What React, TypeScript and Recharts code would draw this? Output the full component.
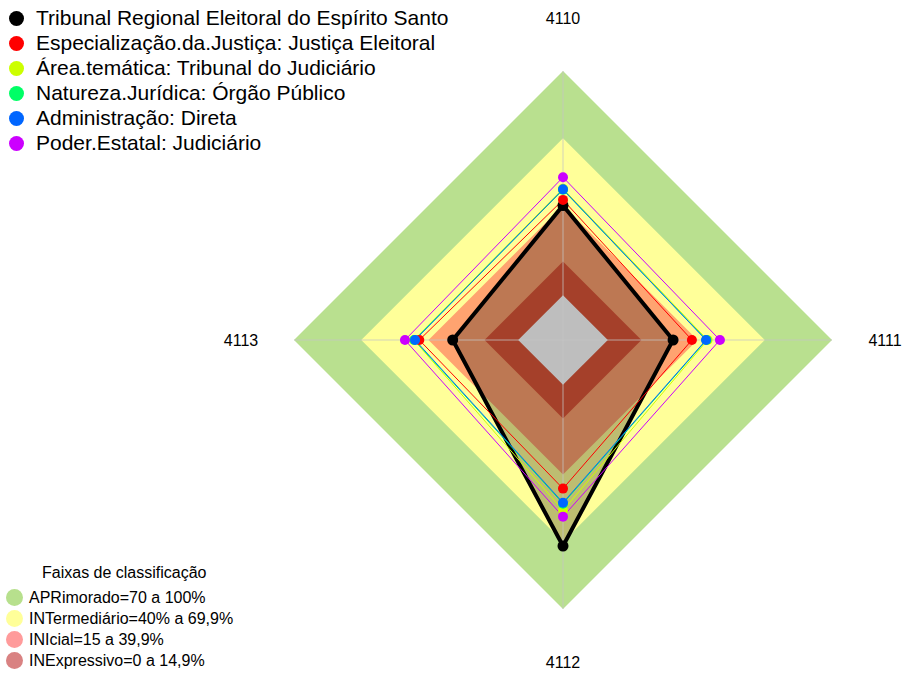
import React from 'react';
import { RadarChart, Radar, PolarAngleAxis, PolarRadiusAxis } from 'recharts';

const categories = ['4110', '4111', '4112', '4113'];
const treES = [40, 29.1, 71.9, 29.2];
const justicaEleitoral = [42.5, 37.5, 46.3, 44.1];
const tribunalJudiciario = [47.5, 44.5, 56, 46.5];
const orgaoPublico = [47, 44, 53, 46.3];
const administracaoDireta = [47.2, 43.8, 52.6, 46];
const poderJudiciario = [52.6, 50, 58.8, 50.5];

const bandAprimorado = [100, 100, 100, 100];
const bandIntermediario = [70, 70, 70, 70];
const bandInicial = [40, 40, 40, 40];
const bandInexpressivo = [15, 15, 15, 15];
const bandZero = [0, 0, 0, 0];

const seriesNames = [
  'Tribunal Regional Eleitoral do Espírito Santo',
  'Especialização.da.Justiça: Justiça Eleitoral',
  'Área.temática: Tribunal do Judiciário',
  'Natureza.Jurídica: Órgão Público',
  'Administração: Direta',
  'Poder.Estatal: Judiciário',
];
const seriesColors = ['#000000', '#FF0000', '#CCFF00', '#00FF66', '#0066FF', '#CC00FF'];

const bandLabels = [
  'APRimorado=70 a 100%',
  'INTermediário=40% a 69,9%',
  'INIcial=15 a 39,9%',
  'INExpressivo=0 a 14,9%',
];
const bandLegendColors = ['#B7E08D', '#FFFF99', '#FF9B9B', '#D98282'];

const data = categories.map((c, i) => ({
  axis: c,
  b100: bandAprimorado[i],
  b70: bandIntermediario[i],
  b40: bandInicial[i],
  b15: bandInexpressivo[i],
  b0: bandZero[i],
  s0: treES[i],
  s1: justicaEleitoral[i],
  s2: tribunalJudiciario[i],
  s3: orgaoPublico[i],
  s4: administracaoDireta[i],
  s5: poderJudiciario[i],
}));

const CX = 563;
const CY = 340;
const R = 269;
const LABEL_R = 322;
const FONT = '"Liberation Sans", Arial, Helvetica, sans-serif';

const Spokes = (props: any) => {
  const pts = props.points || [];
  return (
    <g>
      {pts.map((p: any, i: number) => (
        <line
          key={i}
          x1={p.cx ?? CX}
          y1={p.cy ?? CY}
          x2={p.x}
          y2={p.y}
          stroke="#c4c4c4"
          strokeOpacity={0.75}
          strokeWidth={1}
        />
      ))}
    </g>
  );
};

const AngleTick = (props: any) => {
  const { payload } = props;
  const ang = ((payload?.coordinate ?? 0) * Math.PI) / 180;
  const x = CX + LABEL_R * Math.cos(ang);
  const y = CY - LABEL_R * Math.sin(ang);
  return (
    <text
      x={x}
      y={y}
      textAnchor="middle"
      dominantBaseline="central"
      fontFamily={FONT}
      fontSize={16}
      fill="#000"
    >
      {payload?.value}
    </text>
  );
};

export default function App() {
  return (
    <div style={{ position: 'absolute', left: 0, top: 0, width: 905, height: 675, background: '#fff' }}>
      <RadarChart
        width={905}
        height={675}
        data={data}
        cx={CX}
        cy={CY}
        outerRadius={R}
        innerRadius={0}
        margin={{ top: 0, right: 0, bottom: 0, left: 0 }}
      >
        <PolarAngleAxis dataKey="axis" tick={AngleTick} axisLine={false} tickLine={false} />
        <PolarRadiusAxis domain={[-20, 100]} type="number" tick={false} axisLine={false} />
        <Radar dataKey="b100" fill="#B9E08F" fillOpacity={1} stroke="none" dot={false} isAnimationActive={false} />
        <Radar dataKey="b70" fill="#FFFF99" fillOpacity={1} stroke="none" dot={false} isAnimationActive={false} />
        <Radar dataKey="b40" fill="#FFA370" fillOpacity={1} stroke="none" dot={false} isAnimationActive={false} />
        <Radar dataKey="s0" fill="#000000" fillOpacity={0.26} stroke="none" dot={false} isAnimationActive={false} />
        <Radar dataKey="b15" fill="#A5402A" fillOpacity={1} stroke="none" dot={false} isAnimationActive={false} />
        <Radar dataKey="b0" fill="#BEBEBE" fillOpacity={1} stroke="none" dot={false} isAnimationActive={false} />
        <Radar dataKey="b100" shape={Spokes} fill="none" stroke="none" dot={false} isAnimationActive={false} />
        <Radar
          dataKey="s0"
          fill="none"
          stroke={seriesColors[0]}
          strokeWidth={4}
          dot={{ r: 5.5, fill: seriesColors[0], stroke: 'none' }}
          isAnimationActive={false}
        />
        {[1, 2, 3, 4, 5].map((k) => (
          <Radar
            key={k}
            dataKey={'s' + k}
            fill="none"
            stroke={seriesColors[k]}
            strokeWidth={1}
            dot={{ r: 5, fill: seriesColors[k], stroke: 'none' }}
            isAnimationActive={false}
          />
        ))}
      </RadarChart>

      <div style={{ position: 'absolute', left: 0, top: 5.5, fontFamily: FONT, fontSize: 21, color: '#000' }}>
        {seriesNames.map((n, i) => (
          <div key={n} style={{ height: 25, display: 'flex', alignItems: 'center', whiteSpace: 'nowrap' }}>
            <span
              style={{
                display: 'inline-block',
                width: 15,
                height: 15,
                borderRadius: '50%',
                background: seriesColors[i],
                marginLeft: 9,
                marginRight: 12,
              }}
            />
            <span>{n}</span>
          </div>
        ))}
      </div>

      <div style={{ position: 'absolute', left: 0, top: 562, fontFamily: FONT, fontSize: 16, color: '#000' }}>
        <div style={{ height: 21, lineHeight: '21px', paddingLeft: 42, whiteSpace: 'nowrap' }}>Faixas de classificação</div>
        <div style={{ height: 4 }} />
        {bandLabels.map((n, i) => (
          <div key={n} style={{ height: 21, display: 'flex', alignItems: 'center', whiteSpace: 'nowrap' }}>
            <span
              style={{
                display: 'inline-block',
                width: 17,
                height: 17,
                borderRadius: '50%',
                background: bandLegendColors[i],
                marginLeft: 6,
                marginRight: 6,
              }}
            />
            <span>{n}</span>
          </div>
        ))}
      </div>
    </div>
  );
}
